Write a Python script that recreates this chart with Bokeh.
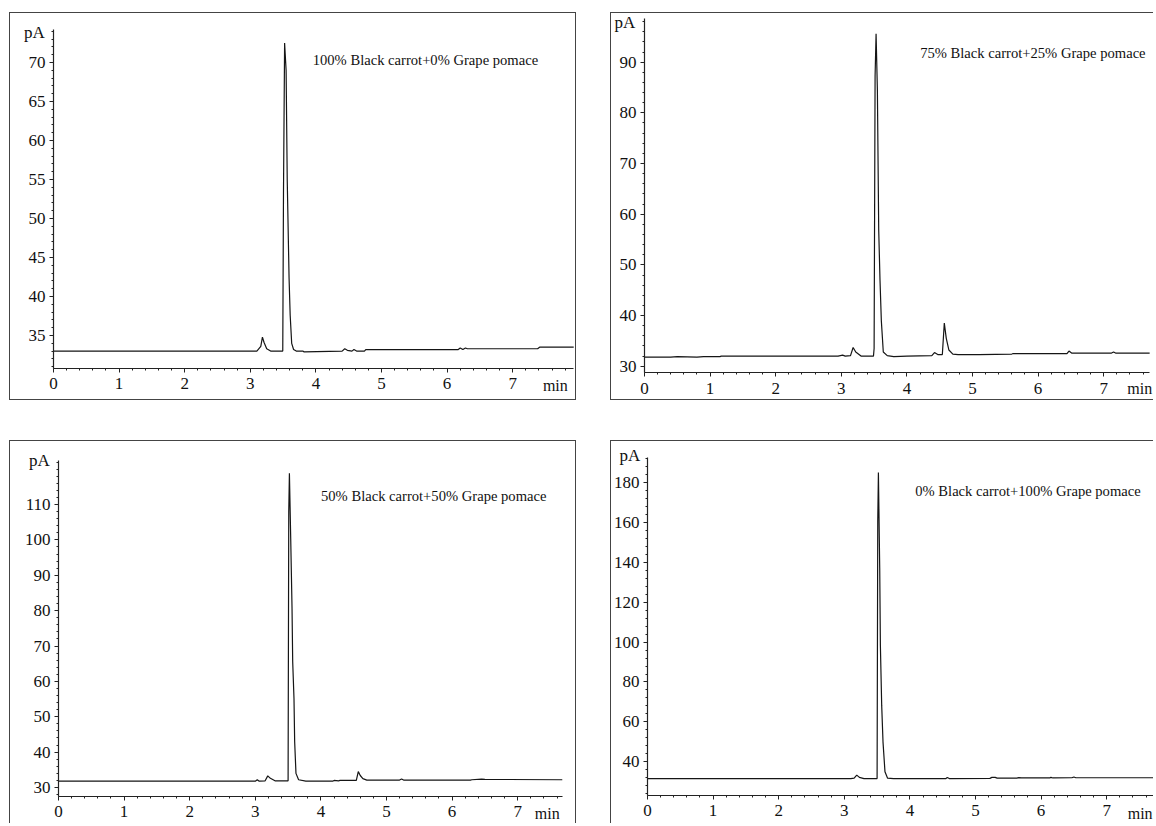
from bokeh.plotting import figure
from bokeh.models import Label, Range1d, FixedTicker, Spacer
from bokeh.layouts import column, row
from bokeh.embed import file_html
from bokeh.resources import INLINE

FONT = "'Liberation Serif', 'Times New Roman', serif"

# ---------------- data (retention time in min, detector signal in pA) ----------------
titles = [
    "100% Black carrot+0% Grape pomace",
    "75% Black carrot+25% Grape pomace",
    "50% Black carrot+50% Grape pomace",
    "0% Black carrot+100% Grape pomace",
]

time_a = [0.00, 1.20, 2.30, 3.10, 3.16, 3.185, 3.21, 3.25, 3.31, 3.40, 3.495, 3.506, 3.523,
          3.546, 3.563, 3.591, 3.608, 3.631, 3.66, 3.70, 3.80, 3.82, 4.40, 4.44, 4.48, 4.55,
          4.58, 4.62, 4.74, 4.76, 6.17, 6.20, 6.24, 6.28, 6.31, 7.38, 7.41, 7.93]
signal_a = [33.0, 33.0, 33.0, 33.0, 33.6, 34.8, 34.1, 33.3, 33.0, 33.0, 33.0, 53.2, 72.5,
            69.0, 55.0, 42.4, 37.6, 34.0, 33.2, 33.0, 33.0, 32.9, 33.0, 33.3, 33.1, 33.0,
            33.2, 33.0, 33.0, 33.2, 33.2, 33.4, 33.2, 33.4, 33.3, 33.3, 33.5, 33.5]

time_b = [0.00, 0.40, 0.50, 0.80, 0.90, 1.15, 1.17, 2.95, 3.02, 3.06, 3.14, 3.18, 3.22, 3.30,
          3.49, 3.50, 3.515, 3.53, 3.55, 3.57, 3.59, 3.61, 3.64, 3.70, 3.80, 4.00, 4.38, 4.42,
          4.47, 4.54, 4.57, 4.60, 4.64, 4.70, 4.78, 5.10, 5.60, 5.62, 6.44, 6.47, 6.51, 7.12,
          7.15, 7.18, 7.70]
signal_b = [31.8, 31.8, 31.9, 31.8, 31.9, 31.9, 32.0, 32.0, 32.2, 32.0, 32.1, 33.7, 32.8, 32.0,
            32.0, 33.5, 87.3, 95.6, 84.4, 57.0, 46.9, 39.0, 32.8, 32.1, 31.9, 32.0, 32.1, 32.7,
            32.3, 32.3, 38.5, 35.5, 33.2, 32.4, 32.3, 32.3, 32.4, 32.5, 32.5, 33.0, 32.6, 32.6,
            32.8, 32.6, 32.6]

time_c = [0.00, 2.25, 2.28, 3.00, 3.03, 3.06, 3.15, 3.19, 3.23, 3.30, 3.50, 3.51, 3.52, 3.54,
          3.56, 3.57, 3.59, 3.60, 3.62, 3.66, 3.77, 4.18, 4.20, 4.27, 4.29, 4.54, 4.57, 4.60,
          4.64, 4.70, 5.20, 5.23, 5.26, 6.28, 6.30, 6.45, 6.50, 7.68]
signal_c = [31.8, 31.8, 31.8, 31.8, 32.2, 31.8, 31.9, 33.3, 32.6, 31.9, 31.9, 107.9, 118.8,
            100.3, 80.6, 65.6, 55.0, 43.0, 34.0, 32.2, 31.8, 31.8, 32.0, 31.9, 32.0, 32.0, 34.5,
            33.4, 32.5, 32.1, 32.1, 32.4, 32.1, 32.1, 32.2, 32.4, 32.3, 32.2]

time_d = [0.00, 3.10, 3.15, 3.19, 3.23, 3.30, 3.50, 3.51, 3.52, 3.54, 3.55, 3.57, 3.59, 3.62,
          3.66, 3.75, 4.55, 4.57, 4.60, 5.22, 5.25, 5.30, 5.33, 5.63, 5.66, 5.70, 6.13, 6.15,
          6.18, 6.47, 6.50, 6.53, 7.73]
signal_d = [31.6, 31.6, 31.8, 33.3, 32.2, 31.6, 31.6, 160.4, 185.0, 137.0, 98.5, 68.4, 50.0,
            35.0, 31.8, 31.6, 31.6, 32.1, 31.6, 31.7, 32.2, 32.2, 31.8, 31.8, 32.1, 31.9, 31.9,
            32.2, 31.9, 32.0, 32.4, 32.0, 32.0]

x_ticks = [0, 1, 2, 3, 4, 5, 6, 7]
y_ticks_a = [35, 40, 45, 50, 55, 60, 65, 70]
y_ticks_b = [30, 40, 50, 60, 70, 80, 90]
y_ticks_c = [30, 40, 50, 60, 70, 80, 90, 100, 110]
y_ticks_d = [40, 60, 80, 100, 120, 140, 160, 180]

LINE = "#151515"
AXIS = "#222222"
TXT = "#111111"


def steps(start, end, step):
    out = []
    v = start
    while v <= end + 1e-9:
        out.append(round(v, 4))
        v += step
    return out


def make_panel(t, s, title, view_x, view_y, axis_x_end, axis_y, y_major, y_minor_step,
               w, h, css, pa_xy, min_xy, title_xy, min_align="center"):
    p = figure(width=w, height=h, x_range=Range1d(*view_x), y_range=Range1d(*view_y),
               output_backend="svg", toolbar_location=None,
               min_border_left=0, min_border_right=0, min_border_top=0, min_border_bottom=0,
               background_fill_color="white", border_fill_color="white",
               outline_line_color=None, styles=css)
    p.grid.visible = False
    p.line(t, s, line_color=LINE, line_width=1.2)

    y_lo, y_hi = axis_y
    first_minor = y_major[0] - y_minor_step * int((y_major[0] - y_lo) / y_minor_step)
    p.xaxis.ticker = FixedTicker(ticks=x_ticks, minor_ticks=steps(0, axis_x_end, 0.2))
    p.yaxis.ticker = FixedTicker(ticks=y_major, minor_ticks=steps(first_minor, y_hi, y_minor_step))
    p.xaxis.fixed_location = y_lo
    p.yaxis.fixed_location = 0
    p.xaxis.bounds = (0, axis_x_end)
    p.yaxis.bounds = (y_lo, y_hi)
    for ax in (p.xaxis[0], p.yaxis[0]):
        ax.axis_line_color = AXIS
        ax.axis_line_width = 1.2
        ax.major_tick_line_color = AXIS
        ax.minor_tick_line_color = AXIS
        ax.major_tick_in = 0
        ax.major_tick_out = 4
        ax.minor_tick_in = 0
        ax.minor_tick_out = 2
        ax.major_label_text_font = FONT
        ax.major_label_text_font_size = "17px"
        ax.major_label_text_color = TXT
    p.xaxis.major_label_standoff = 6
    p.yaxis.major_label_standoff = 4

    p.add_layout(Label(x=pa_xy[0], y=pa_xy[1], text="pA", text_font=FONT, text_font_size="17px",
                       text_color=TXT, text_align="center", text_baseline="middle"))
    p.add_layout(Label(x=min_xy[0], y=min_xy[1], text="min", text_font=FONT, text_font_size="16px",
                       text_color=TXT, text_align=min_align, text_baseline="middle"))
    p.add_layout(Label(x=title_xy[0], y=title_xy[1], text=title, text_font=FONT,
                       text_font_size="14.6px", text_color=TXT, text_align="center",
                       text_baseline="middle"))
    return p


BORDER = "1px solid #444"

p1 = make_panel(time_a, signal_a, titles[0], (-0.6555, 7.988), (26.54, 76.28), 7.93, (30.81, 74.2),
                y_ticks_a, 1, 567, 388, {"border": BORDER},
                (-0.29, 73.8), (7.65, 28.6), (5.67, 70.35))
p2 = make_panel(time_b, signal_b, titles[1], (-0.503, 7.774), (23.04, 99.6), 7.70, (28.7, 98.6),
                y_ticks_b, 2, 543, 388,
                {"border-top": BORDER, "border-left": BORDER, "border-bottom": BORDER},
                (-0.30, 97.8), (7.55, 25.6), (5.92, 91.8))
p3 = make_panel(time_c, signal_c, titles[2], (-0.732, 7.912), (19.55, 127.8), 7.68, (27.5, 122.5),
                y_ticks_c, 2, 567, 383,
                {"border-top": BORDER, "border-left": BORDER, "border-right": BORDER},
                (-0.29, 122.4), (7.45, 22.7), (5.72, 112.5))
p4 = make_panel(time_d, signal_d, titles[3], (-0.549, 7.729), (8.57, 200.55), 7.73, (23.3, 192.4),
                y_ticks_d, 4, 543, 383, {"border-top": BORDER, "border-left": BORDER},
                (-0.27, 193.5), (7.70, 14.1), (5.80, 175.5), min_align="right")

layout = column(
    Spacer(height=12),
    row(Spacer(width=9), p1, Spacer(width=34), p2, spacing=0),
    Spacer(height=40),
    row(Spacer(width=9), p3, Spacer(width=34), p4, spacing=0),
    spacing=0,
)

open("out.html", "w").write(file_html(layout, INLINE))
